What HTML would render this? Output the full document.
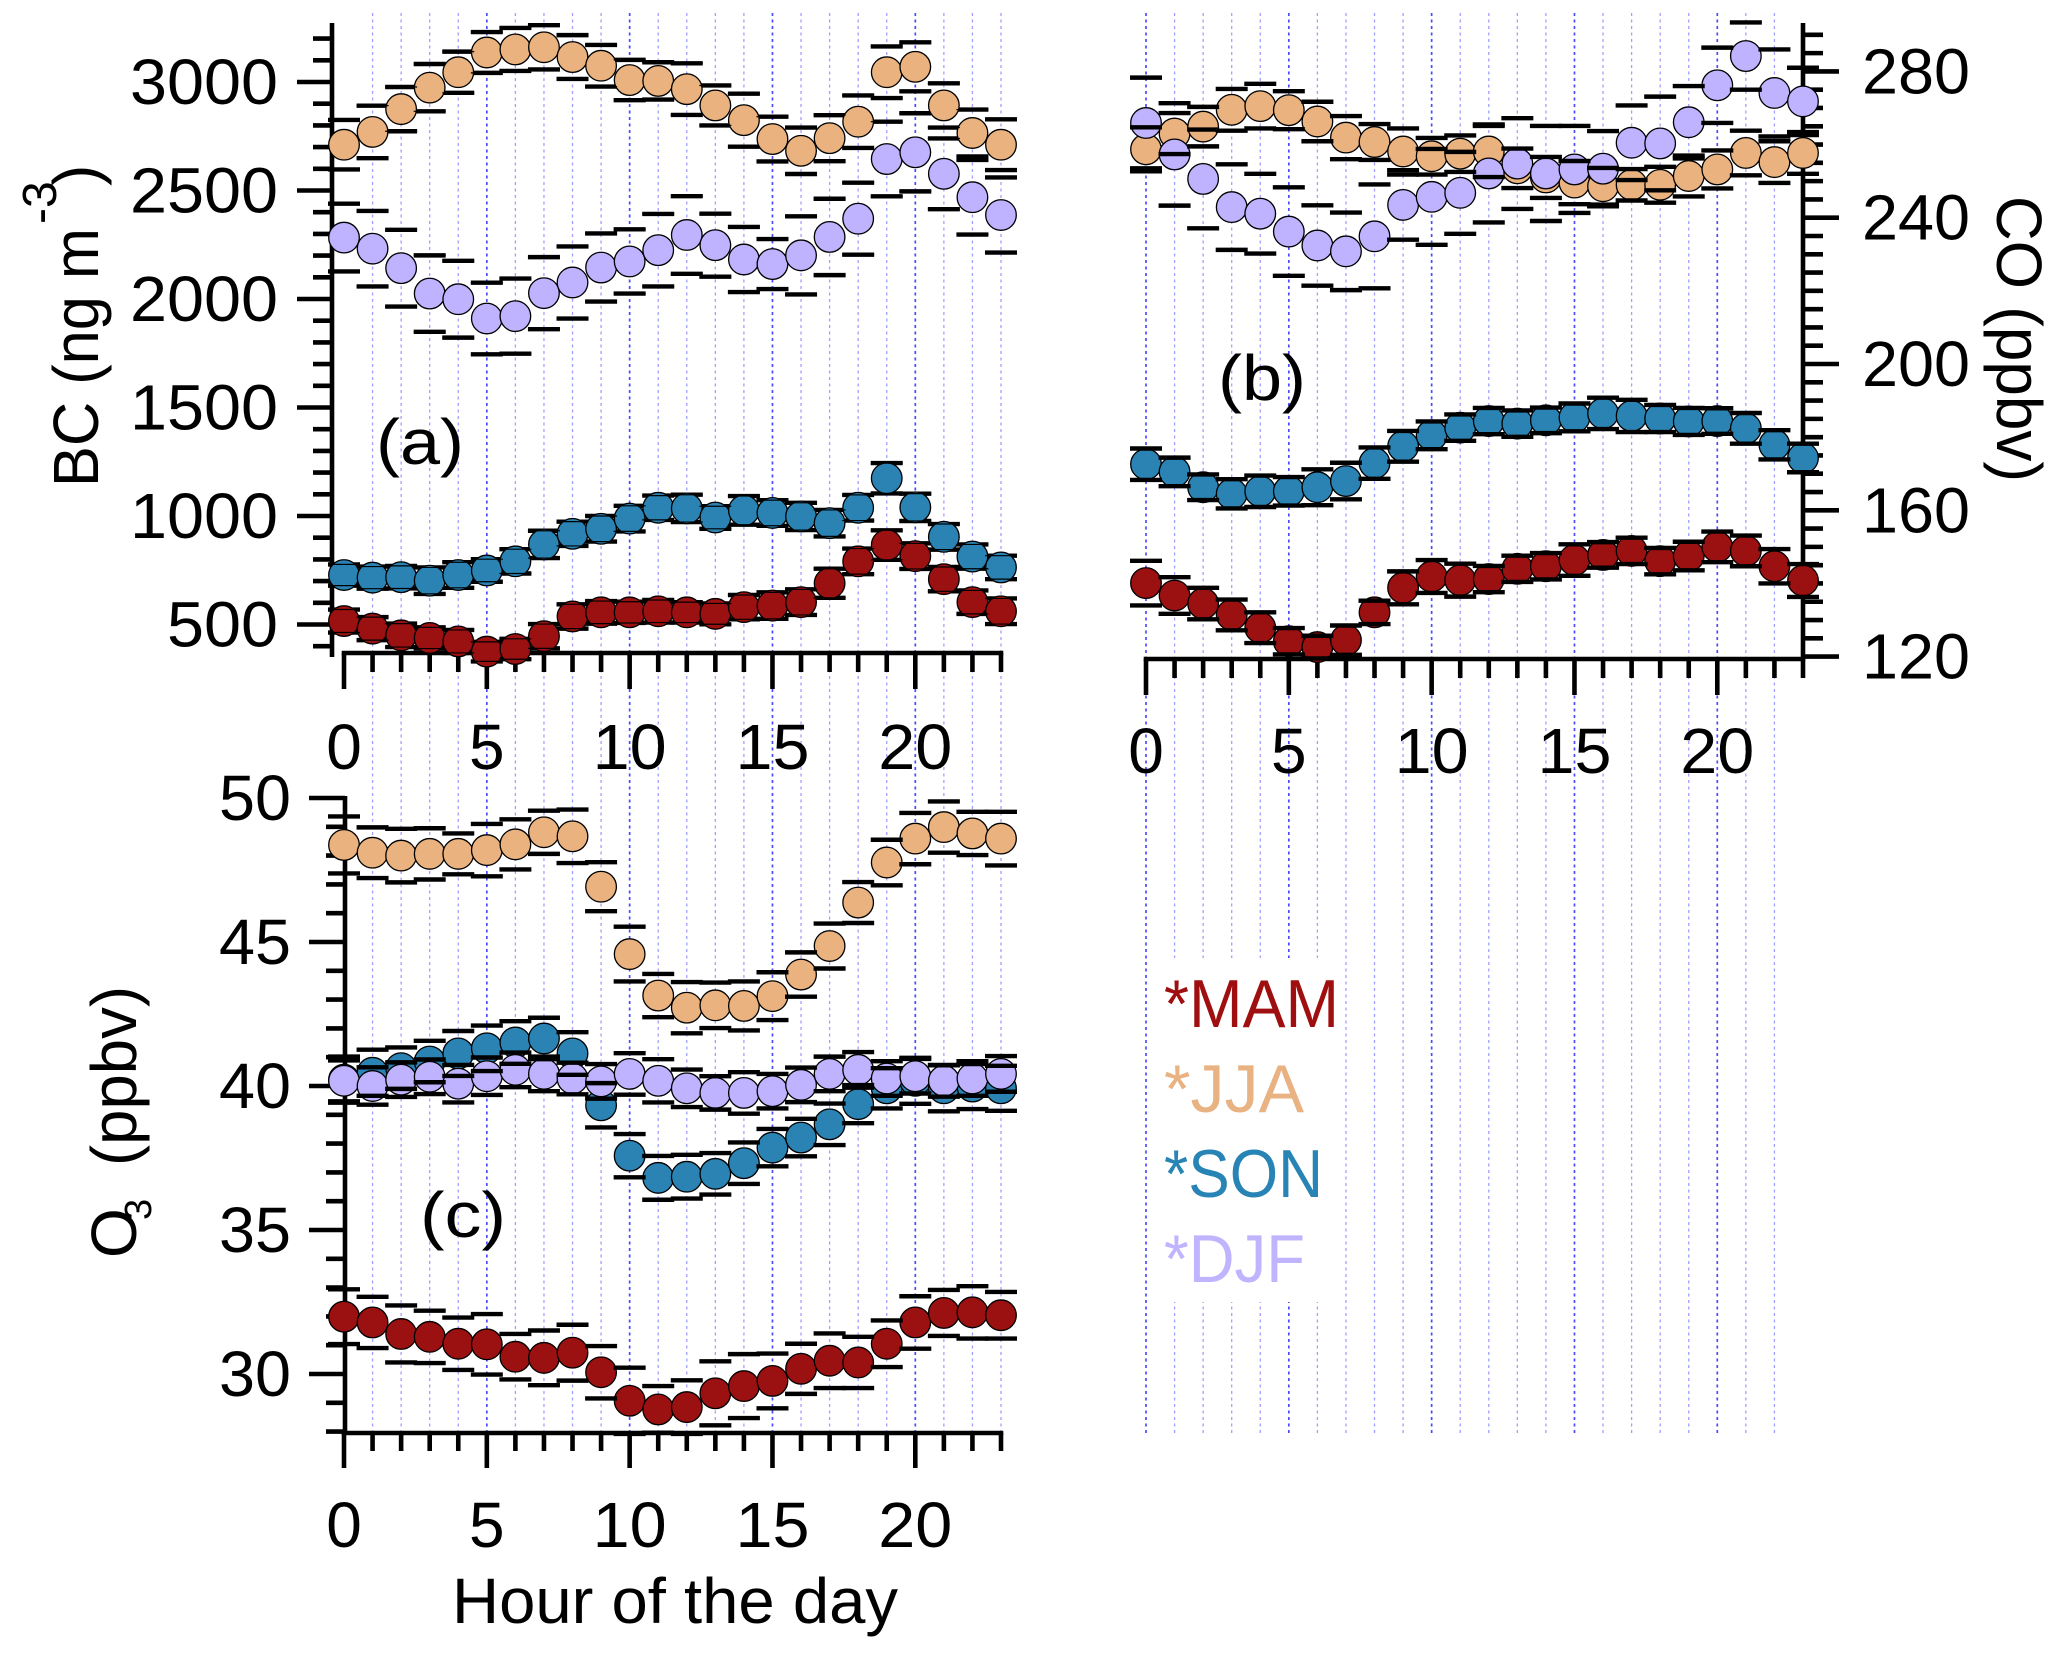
<!DOCTYPE html>
<html lang="en">
<head>
<meta charset="utf-8">
<title>Diurnal cycles of BC, CO and O3 by season</title>
<style>
  html, body { margin: 0; padding: 0; background: #fff; }
  svg { display: block; }
  text { font-family: "Liberation Sans", sans-serif; font-size: 64px; fill: #000; }
</style>
</head>
<body>
<svg id="figure" xmlns="http://www.w3.org/2000/svg" width="2067" height="1656" viewBox="0 0 2067 1656">
  <rect x="0" y="0" width="2067" height="1656" fill="#fff"/>
  <g id="grid"></g>
  <rect x="1150" y="958" width="193" height="344" fill="#fff"/>
  <g id="panels"></g>

  <text transform="translate(98,487) rotate(-90)" textLength="259" lengthAdjust="spacingAndGlyphs">BC (ng m</text>
  <text transform="translate(56,224) rotate(-90)" style="font-size:48px">-3</text>
  <text transform="translate(98,186) rotate(-90)">)</text>

  <text transform="translate(1997,196) rotate(90)" textLength="286" lengthAdjust="spacingAndGlyphs">CO (ppbv)</text>

  <text transform="translate(136,1258) rotate(-90)">O</text>
  <text transform="translate(151,1220) rotate(-90)" style="font-size:38px">3</text>
  <text transform="translate(136,1166) rotate(-90)" textLength="180" lengthAdjust="spacingAndGlyphs">(ppbv)</text>

  <text x="452" y="1623" textLength="446" lengthAdjust="spacingAndGlyphs">Hour of the day</text>

  <text x="376" y="464" textLength="88" lengthAdjust="spacingAndGlyphs">(a)</text>
  <text x="1218" y="400" textLength="88" lengthAdjust="spacingAndGlyphs">(b)</text>
  <text x="420" y="1237" textLength="86" lengthAdjust="spacingAndGlyphs">(c)</text>

  <g>
    <text x="1164" y="1027" textLength="175" lengthAdjust="spacingAndGlyphs" style="font-size:68px;fill:#a00f10">*MAM</text>
    <text x="1164" y="1112" textLength="140" lengthAdjust="spacingAndGlyphs" style="font-size:68px;fill:#e8b282">*JJA</text>
    <text x="1164" y="1197" textLength="159" lengthAdjust="spacingAndGlyphs" style="font-size:68px;fill:#2884b4">*SON</text>
    <text x="1164" y="1282" textLength="141" lengthAdjust="spacingAndGlyphs" style="font-size:68px;fill:#c0b4ff">*DJF</text>
  </g>
</svg>

<script>
// ---- Data ----
const hours = [0,1,2,3,4,5,6,7,8,9,10,11,12,13,14,15,16,17,18,19,20,21,22,23];
const hourTickLabels = [0,5,10,15,20];
const seasons = ['MAM','JJA','SON','DJF'];

const bcTickLabels = [500,1000,1500,2000,2500,3000];
const coTickLabels = [120,160,200,240,280];
const o3TickLabels = [30,35,40,45,50];

// Panel (a) BC, ng m-3
const bcMAM = [516,481,450,438,422,375,387,446,537,556,556,561,556,549,580,587,603,690,791,866,815,709,603,561];
const bcMAMErr = [53,53,54,49,53,45,47,56,56,52,49,52,47,48,56,61,59,67,59,68,59,56,54,59];
const bcJJA = [2711,2770,2875,2974,3045,3136,3150,3160,3115,3075,3009,3005,2967,2892,2824,2737,2683,2741,2817,3045,3070,2892,2765,2711];
const bcJJAErr = [114,121,102,109,95,94,99,102,101,96,93,86,119,92,122,103,107,106,121,119,113,102,108,117];
const bcSON = [728,716,718,702,728,749,791,869,918,941,988,1038,1035,993,1026,1014,998,967,1038,1174,1040,904,813,763];
const bcSONErr = [49,51,52,61,59,52,56,63,56,59,59,56,63,52,66,59,63,61,59,70,63,59,56,54];
const bcDJF = [2283,2232,2142,2025,1999,1910,1921,2027,2076,2145,2173,2225,2295,2248,2182,2161,2201,2286,2370,2645,2676,2577,2469,2387];
const bcDJFErr = [156,174,177,176,177,165,173,166,166,157,148,167,179,145,150,115,180,176,166,172,180,163,172,173];

// Panel (b) CO, ppbv
const coMAM = [140.1,136.7,134.5,131.4,127.9,124.2,122.6,124.5,132.1,138.8,141.9,140.9,141.2,144.0,144.7,146.4,147.8,148.9,146.1,147.5,150.0,148.9,144.7,140.8];
const coMAMErr = [6.1,5.0,4.3,4.2,4.2,3.6,3.1,4.0,3.2,4.5,4.5,4.5,3.6,3.6,3.6,4.3,3.5,3.6,3.6,3.9,4.2,4.2,4.7,4.5];
const coJJA = [258.7,263.0,264.9,269.5,270.5,269.4,266.3,261.9,260.7,258.1,256.8,257.5,258.1,253.5,251.0,249.6,248.6,249.0,249.0,251.4,253.2,257.7,255.2,257.7];
const coJJAErr = [6.0,5.6,5.4,5.7,6.1,5.2,5.4,5.9,4.9,6.3,5.0,5.0,7.0,5.4,5.6,5.9,5.0,4.3,4.9,5.6,5.2,6.1,5.7,5.7];
const coSON = [172.6,170.5,166.3,164.5,165.2,165.2,166.3,168.0,172.9,177.5,180.5,182.6,184.4,183.7,184.6,185.4,186.5,185.8,185.1,184.3,184.4,182.4,177.9,174.3];
const coSONErr = [4.3,3.9,3.5,4.0,4.3,3.9,4.9,5.0,4.3,4.2,3.8,3.6,3.6,3.6,3.5,3.8,4.3,4.4,3.7,3.7,3.5,4.2,4.0,3.9];
const coDJF = [265.9,257.3,250.6,242.9,241.1,236.2,232.4,230.8,234.9,243.5,245.7,246.8,252.1,254.8,252.1,253.2,253.4,260.5,260.3,266.1,276.2,284.2,274.1,271.8];
const coDJFErr = [12.4,14.0,13.5,11.7,10.9,12.1,11.0,10.6,14.2,9.5,13.1,11.2,13.4,12.4,13.0,11.9,10.3,10.2,12.8,9.9,10.3,9.2,11.9,9.2];

// Panel (c) O3, ppbv
const o3MAM = [31.99,31.79,31.39,31.29,31.05,31.03,30.60,30.56,30.74,30.06,29.07,28.77,28.85,29.33,29.58,29.76,30.18,30.46,30.40,31.05,31.79,32.12,32.14,32.04];
const o3MAMErr = [0.95,0.89,0.99,0.91,0.91,1.05,0.79,0.95,0.97,0.91,1.15,0.81,0.93,1.11,1.11,0.95,0.87,0.95,0.89,0.81,0.91,0.80,0.91,0.81];
const o3JJA = [48.37,48.10,48.00,48.06,48.06,48.19,48.39,48.81,48.67,46.92,44.58,43.14,42.72,42.80,42.78,43.12,43.87,44.86,46.37,47.76,48.59,48.99,48.77,48.59];
const o3JJAErr = [0.99,0.88,0.93,0.89,0.71,0.91,0.87,0.75,0.93,0.85,0.95,0.75,0.89,0.79,0.85,0.83,0.77,0.78,0.71,0.79,0.89,0.89,0.75,0.93];
const o3SON = [40.22,40.46,40.62,40.85,41.13,41.31,41.51,41.65,41.13,39.33,37.58,36.81,36.85,36.95,37.32,37.86,38.21,38.67,39.37,39.92,40.18,39.92,39.98,39.92];
const o3SONErr = [0.80,0.80,0.72,0.72,0.78,0.79,0.74,0.72,0.74,0.77,0.75,0.76,0.76,0.72,0.72,0.65,0.65,0.72,0.66,0.70,0.80,0.80,0.78,0.78];
const o3DJF = [40.18,40.00,40.22,40.32,40.08,40.34,40.56,40.42,40.26,40.16,40.42,40.18,39.92,39.76,39.76,39.82,40.04,40.42,40.56,40.26,40.34,40.18,40.26,40.42];
const o3DJFErr = [0.71,0.65,0.60,0.60,0.65,0.65,0.60,0.60,0.55,0.60,0.72,0.75,0.65,0.58,0.72,0.60,0.60,0.60,0.62,0.60,0.60,0.55,0.60,0.62];

// ---- Axis functions ----
const HOUR_STEP = 28.565;
function xA(h) { return 344 + h * HOUR_STEP; }
function xB(h) { return 1146 + h * HOUR_STEP; }
function yA(v) { return 82 + (3000 - v) * (542.5 / 2500); }
function yB(v) { return 71.4 + (280 - v) * (585.2 / 160); }
function yC(v) { return 798 + (50 - v) * (576 / 20); }

const seasonFill = { MAM: '#9b1010', JJA: '#e9b27f', SON: '#2a83b3', DJF: '#bfb2fe' };
const SVG_NS = 'http://www.w3.org/2000/svg';
const AXIS_W = 4.6;
const CAP_W = 4.4;
const CAP_HALF = 16;

function make(tag, parent, attrs) {
  const el = document.createElementNS(SVG_NS, tag);
  for (const k in attrs) el.setAttribute(k, attrs[k]);
  parent.appendChild(el);
  return el;
}

function line(parent, x1, y1, x2, y2, w) {
  return make('line', parent, { x1: x1, y1: y1, x2: x2, y2: y2, stroke: '#000', 'stroke-width': w });
}

function drawGridLine(parent, x, isMajor) {
  const l = make('line', parent, {
    x1: x, y1: 13, x2: x, y2: 1433,
    stroke: isMajor ? '#4a4aff' : '#a0a0ff',
    'stroke-width': isMajor ? 1.7 : 1.3,
    'stroke-dasharray': '3 3.5'
  });
  
  
}

function drawGrid() {
  const g = document.getElementById('grid');
  hours.forEach(function (h) {
    if (h > 0) drawGridLine(g, xA(h), h % 5 === 0);
    if (h < 23) drawGridLine(g, xB(h), h % 5 === 0);
  });
}

function drawHourAxis(parent, xf, axisY, majorEnd, minorEnd, labelY) {
  const g = make('g', parent, {});
  
  
  line(g, xf(hours[0]) - 2.3, axisY, xf(hours[hours.length - 1]) + 2.3, axisY, AXIS_W);
  hours.forEach(function (h) {
    const t = line(g, xf(h), axisY, xf(h), h % 5 === 0 ? majorEnd : minorEnd, AXIS_W);
    
    
  });
  hourTickLabels.forEach(function (v) {
    const t = make('text', g, { x: xf(v), y: labelY, 'text-anchor': 'middle' });
    t.textContent = v;
    if (v >= 10) {
      t.setAttribute('textLength', 74);
      t.setAttribute('lengthAdjust', 'spacingAndGlyphs');
    }
    
    
  });
}

function drawValueAxis(parent, o) {
  const g = make('g', parent, {});
  
  
  line(g, o.x, o.top, o.x, o.bottom, AXIS_W);
  for (let v = o.min; v <= o.max + 1e-6; v += o.minorStep) {
    const isMajor = Math.abs(((v - o.majorBase) / o.majorStep) - Math.round((v - o.majorBase) / o.majorStep)) < 1e-6;
    const len = isMajor ? o.majorLen : o.minorLen;
    const t = line(g, o.x, o.yf(v), o.x + o.dir * len, o.yf(v), AXIS_W);
    
    
  }
  o.labels.forEach(function (v) {
    const t = make('text', g, { x: o.labelX, y: o.yf(v) + 22, 'text-anchor': o.anchor });
    t.textContent = v;
    t.setAttribute('textLength', String(v).length * o.digitWidth);
    t.setAttribute('lengthAdjust', 'spacingAndGlyphs');
    
    
  });
}

// capsOnTop: thick caps over the markers (panels b, c). Otherwise thick caps sit
// behind the markers with a hairline continuing over them (panel a).
function drawSeries(parent, xf, yf, seriesByName, errByName, capsOnTop) {
  const under = make('g', parent, {});
  
  
  const markers = make('g', parent, {});
  
  
  const over = make('g', parent, {});
  
  
  seasons.forEach(function (s) {
    const vals = seriesByName[s];
    const errs = errByName[s];
    vals.forEach(function (v, i) {
      const c = make('circle', markers, { cx: xf(hours[i]), cy: yf(v), r: 15.3, fill: seasonFill[s], stroke: '#000', 'stroke-width': 1.3 });
      
      
      [v + errs[i], v - errs[i]].forEach(function (b) {
        const x0 = xf(hours[i]) - CAP_HALF;
        const x1 = xf(hours[i]) + CAP_HALF;
        const cap = line(capsOnTop ? over : under, x0, yf(b), x1, yf(b), CAP_W);
        
        
        if (!capsOnTop) {
          const hair = line(over, x0, yf(b), x1, yf(b), 1.2);
          
          
        }
      });
    });
  });
}

function panelGroup(name) {
  const g = make('g', document.getElementById('panels'), {});
  
  
  return g;
}

drawGrid();

// Panel (a)
const panelA = panelGroup('panel-a-bc');
drawValueAxis(panelA, {
  name: 'y-axis-bc', x: 332, top: 23, bottom: 657, yf: yA,
  min: 400, max: 3200, minorStep: 100, majorStep: 500, majorBase: 500,
  majorLen: 35, minorLen: 19, dir: -1, labels: bcTickLabels, labelX: 278, anchor: 'end', digitWidth: 37
});
drawHourAxis(panelA, xA, 653, 689, 672, 769);
drawSeries(panelA, xA, yA,
  { MAM: bcMAM, JJA: bcJJA, SON: bcSON, DJF: bcDJF },
  { MAM: bcMAMErr, JJA: bcJJAErr, SON: bcSONErr, DJF: bcDJFErr }, false);

// Panel (b)
const panelB = panelGroup('panel-b-co');
drawValueAxis(panelB, {
  name: 'y-axis-co', x: 1803, top: 23, bottom: 659, yf: yB,
  min: 120, max: 290, minorStep: 5, majorStep: 40, majorBase: 120,
  majorLen: 36, minorLen: 20, dir: 1, labels: coTickLabels, labelX: 1862, anchor: 'start', digitWidth: 36
});
drawHourAxis(panelB, xB, 659, 695, 678, 773);
drawSeries(panelB, xB, yB,
  { MAM: coMAM, JJA: coJJA, SON: coSON, DJF: coDJF },
  { MAM: coMAMErr, JJA: coJJAErr, SON: coSONErr, DJF: coDJFErr }, true);

// Panel (c)
const panelC = panelGroup('panel-c-o3');
drawValueAxis(panelC, {
  name: 'y-axis-o3', x: 345, top: 796, bottom: 1433, yf: yC,
  min: 28, max: 50, minorStep: 1, majorStep: 5, majorBase: 30,
  majorLen: 36, minorLen: 19, dir: -1, labels: o3TickLabels, labelX: 291, anchor: 'end', digitWidth: 36
});
drawHourAxis(panelC, xA, 1433, 1468, 1451, 1547);
drawSeries(panelC, xA, yC,
  { MAM: o3MAM, JJA: o3JJA, SON: o3SON, DJF: o3DJF },
  { MAM: o3MAMErr, JJA: o3JJAErr, SON: o3SONErr, DJF: o3DJFErr }, true);
</script>
</body>
</html>
